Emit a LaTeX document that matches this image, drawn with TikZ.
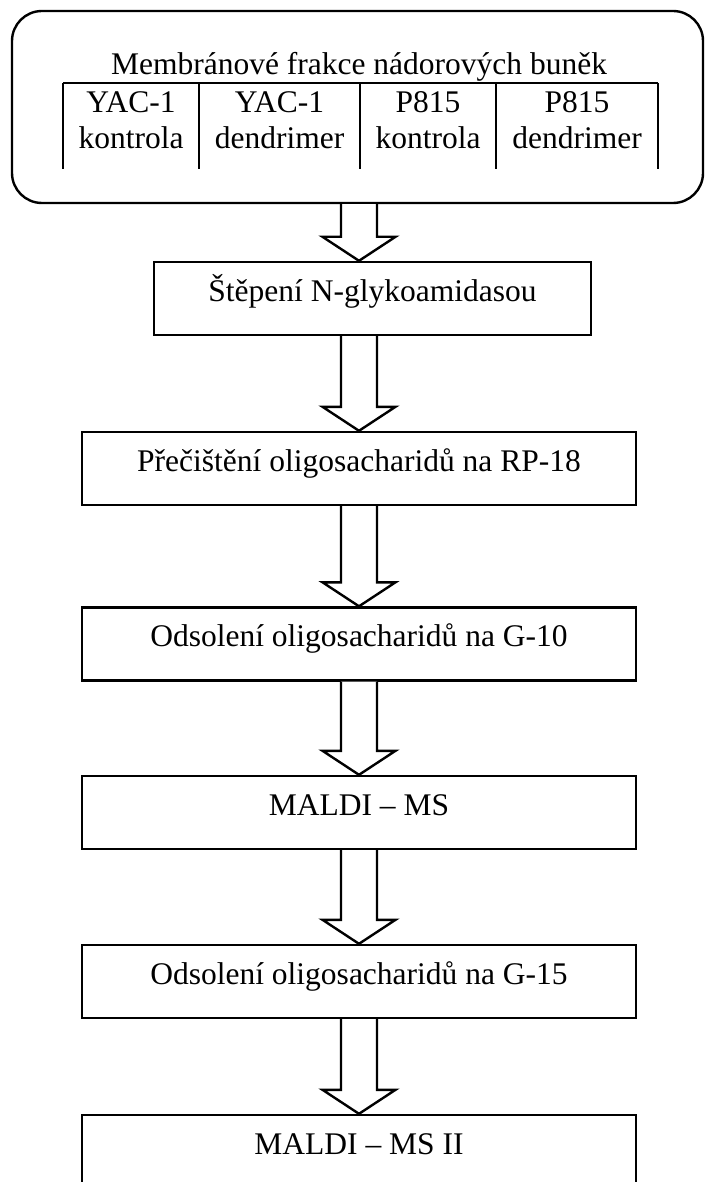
\documentclass[tikz,border=0pt]{standalone}
\usepackage{fontspec}
\setmainfont{Liberation Serif}
\usetikzlibrary{calc}

\tikzset{
    stepbox/.style={draw, rectangle, inner sep=0pt, minimum height=36.5pt,
        text height=0.75em, text depth=0.5em},
    widebox/.style={stepbox, minimum width=277pt},
    txt/.style={inner sep=0pt, anchor=base},
}

% hollow block arrow from one node down to the next, on the axis
\newcommand{\blockarrow}[2]{%
    \draw[fill=white] ($(axis |- #1.south)+(-18,0)$) -- ($(axis |- #2.north)+(-18,-24)$)
        -- ($(axis |- #2.north)+(-36.5,-24)$) -- (axis |- #2.north)
        -- ($(axis |- #2.north)+(36.5,-24)$) -- ($(axis |- #2.north)+(18,-24)$)
        -- ($(axis |- #1.south)+(18,0)$);}

\begin{document}
\begin{tikzpicture}[x=0.5pt, y=-0.5pt, line width=1.2pt,
    font=\fontsize{15.75}{18}\selectfont]
    \useasboundingbox (0,0) rectangle (705,1182);
    \coordinate (axis) at (359,0);

    % Membrane fractions
    \node[draw, rounded corners=15pt, inner sep=0pt, minimum width=345.5pt,
        minimum height=96pt] (frakce) at (357.5,107) {};
    \node[txt] (title) at (359,75) {Membránové frakce nádorových buněk};

    % Table of samples
    \draw (63,83) -- (658,83);
    \foreach \x in {63,199,360,496,658}
        \draw (\x,83) -- (\x,169);
    \node[txt] (yac1) at (131,113) {YAC-1};
    \node[txt] (yac1k) at (131,149) {kontrola};
    \node[txt] (yac2) at (279.5,113) {YAC-1};
    \node[txt] (yac2d) at (279.5,149) {dendrimer};
    \node[txt] (p1) at (428,113) {P815};
    \node[txt] (p1k) at (428,149) {kontrola};
    \node[txt] (p2) at (577,113) {P815};
    \node[txt] (p2d) at (577,149) {dendrimer};

    % Steps
    \node[stepbox, minimum width=218.5pt] (stepeni) at (372.5,298.5) {Štěpení N-glykoamidasou};
    \node[widebox] (precisteni) at (359,468.5) {Přečištění oligosacharidů na RP-18};
    \node[widebox] (odsoleni) at (359,644) {Odsolení oligosacharidů na G-10};
    \node[widebox] (maldi) at (359,812.5) {MALDI -- MS};
    \node[widebox] (odsoleni2) at (359,981.5) {Odsolení oligosacharidů na G-15};
    \node[widebox] (maldi2) at (359,1151.5) {MALDI -- MS II};

    % Arrows
    \blockarrow{frakce}{stepeni}
    \blockarrow{stepeni}{precisteni}
    \blockarrow{precisteni}{odsoleni}
    \blockarrow{odsoleni}{maldi}
    \blockarrow{maldi}{odsoleni2}
    \blockarrow{odsoleni2}{maldi2}
\end{tikzpicture}
\end{document}
